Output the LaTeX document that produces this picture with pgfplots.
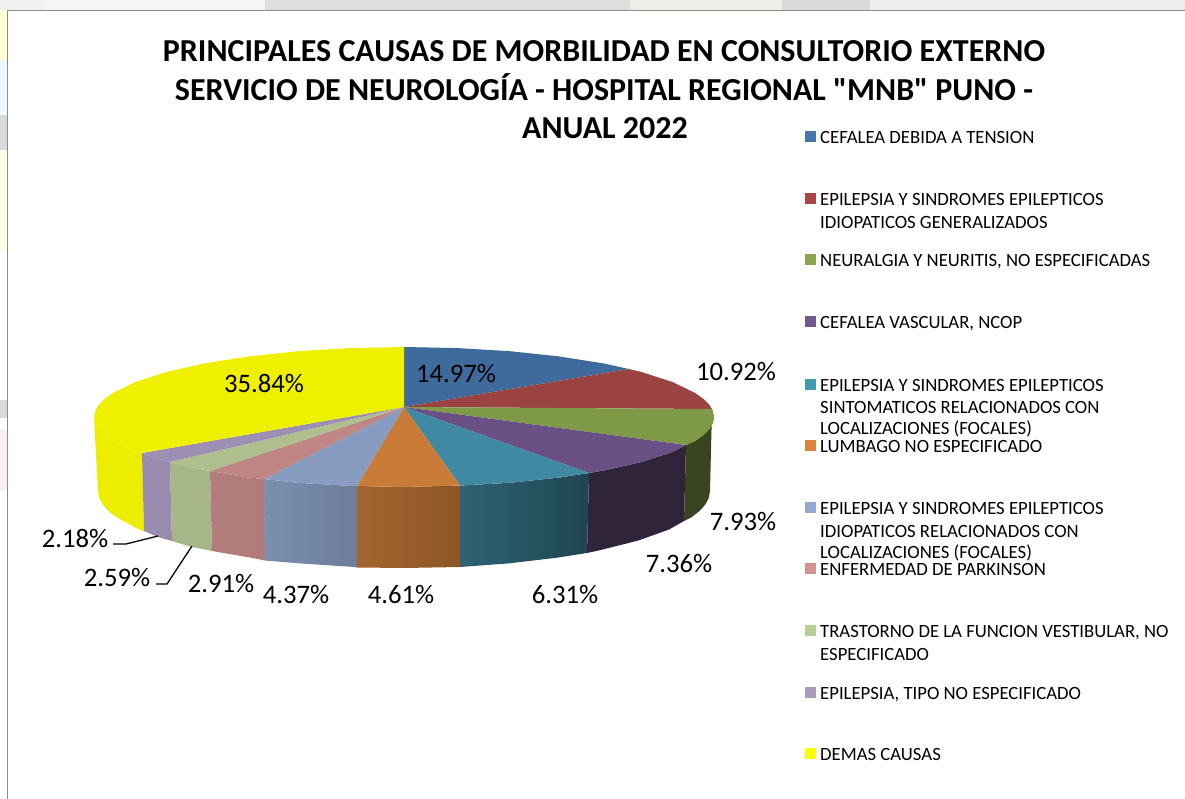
\documentclass[border=0pt]{standalone}
\usepackage{pgfplots}
\usepackage{fontspec}
\setmainfont{Carlito}
\newfontfamily\tfont{Carlito}
\pgfplotsset{compat=1.18}
\definecolor{cA}{HTML}{3F6A9C}\definecolor{cB}{HTML}{9B4340}\definecolor{cC}{HTML}{7F9A47}
\definecolor{cD}{HTML}{6A5084}\definecolor{cE}{HTML}{3F8AA2}\definecolor{cF}{HTML}{C97B38}
\definecolor{cG}{HTML}{879CC0}\definecolor{cH}{HTML}{C08684}\definecolor{cI}{HTML}{AEBE8D}
\definecolor{cJ}{HTML}{9D8FB2}\definecolor{cK}{HTML}{EFEF00}
\definecolor{kA}{HTML}{4674AB}\definecolor{kB}{HTML}{AA4643}\definecolor{kC}{HTML}{89A54E}
\definecolor{kD}{HTML}{71588F}\definecolor{kE}{HTML}{4198AF}\definecolor{kF}{HTML}{DB843D}
\definecolor{kG}{HTML}{93A9CF}\definecolor{kH}{HTML}{D19392}\definecolor{kI}{HTML}{B9CD96}
\definecolor{kJ}{HTML}{A99BBD}\definecolor{kK}{HTML}{FFFF00}
\tikzset{
  lab/.style={font=\fontsize{26.7}{26.7}\selectfont, anchor=center, inner sep=0pt},
  leg/.style={font=\fontsize{18.7}{18.7}\selectfont, anchor=base west, inner sep=0pt},
  ttl/.style={font=\fontsize{32}{32}\selectfont\tfont\bfseries, anchor=base, inner sep=0pt},
  key/.style={only marks, mark=square*, mark size=5pt, mark options={draw=#1, fill=#1, line width=0pt}},
}
\begin{document}
\begin{tikzpicture}
\begin{axis}[
  scale only axis, width=1185pt, height=799pt,
  xmin=0, xmax=1185, ymin=0, ymax=799, y dir=reverse,
  hide axis, clip=true,
  every axis plot/.append style={draw=none},
]
% outer strips
\addplot[fill=black!6] coordinates {(0,0)(45,0)(45,10)(0,10)};
\addplot[fill=red!14!black!4] coordinates {(45,0)(265,0)(265,10)(45,10)};
\addplot[fill=black!13] coordinates {(265,0)(630,0)(630,10)(265,10)};
\addplot[fill=yellow!25!black!10] coordinates {(630,0)(782,0)(782,10)(630,10)};
\addplot[fill=black!15] coordinates {(782,0)(870,0)(870,10)(782,10)};
\addplot[fill=black!7] coordinates {(870,0)(1185,0)(1185,10)(870,10)};
\addplot[fill=yellow!15] coordinates {(0,10)(7,10)(7,60)(0,60)};
\addplot[fill=cyan!8] coordinates {(0,60)(7,60)(7,115)(0,115)};
\addplot[fill=black!15] coordinates {(0,115)(7,115)(7,150)(0,150)};
\addplot[fill=yellow!10] coordinates {(0,150)(7,150)(7,250)(0,250)};
\addplot[fill=black!15] coordinates {(0,400)(7,400)(7,418)(0,418)};
\addplot[fill=red!6] coordinates {(0,430)(7,430)(7,490)(0,490)};
\addplot[draw=black!45, line width=1.2pt] coordinates {(7.5,799)(7.5,10.5)(1185,10.5)};
% sides
\addplot[fill=cK!99!black] coordinates {(142,453)(135.5,452)(112.7,440.9)(104.6,435.1)(98.7,429.2)(95.2,423.1)(94,417)(98,491)(99.2,497.7)(102.6,504.4)(108.4,510.9)(116.5,517.3)(139,529.5)(144,531)};
\addplot[fill=cJ!97!black] coordinates {(170,462)(155,458)(142,453)(144,531)(158,537)(172,541)};
\addplot[fill=cI!96!black] coordinates {(210,471)(190,467)(170,462)(172,541)(190,546.5)(212,551)};
\addplot[shade, left color=cH!93!black, right color=cH!92!black] coordinates {(264,479)(249,477.6)(210,471)(212,551)(251,557.7)(265,560.5)};
\addplot[shade, left color=cG!92!black, right color=cG!80!black] coordinates {(357,486)(350,485.9)(298,482.8)(264,479)(265,560.5)(299.3,563.4)(351,566.8)(357,567.5)};
\addplot[shade, left color=cF!82!black, right color=cF!70!black] coordinates {(460,485.5)(404,487)(357,486)(357,567.5)(404,568)(460,567)};
\addplot[shade, left color=cE!72!black, right color=cE!50!black] coordinates {(589,473)(559,477.6)(510,482.8)(460,485.5)(460,567)(508.7,563.4)(557,557.7)(587,553)};
\addplot[fill=cD!45!black] coordinates {(686,445)(672.5,452)(641.5,462)(603.3,470.6)(589,473)(587,553)(600.7,550)(638.4,540.5)(669,529.5)(684,521)};
\addplot[fill=cC!45!black] coordinates {(712,409)(714,417)(712.8,423.1)(709.3,429.2)(703.4,435.1)(695.3,440.9)(686,445)(684,521)(691.5,517.3)(699.6,510.9)(705.4,504.4)(708.8,497.7)(710,491)};
% tops
\addplot[fill=cA] coordinates {(404,407)(404,347)(458,348.1)(510,351.2)(559,356.4)(603.3,363.4)(629,369)};
\addplot[fill=cB] coordinates {(404,407)(629,369)(641.5,372)(672.5,382)(695.3,393.1)(703.4,398.9)(709.3,404.8)(712,409)};
\addplot[fill=cC] coordinates {(404,407)(712,409)(714,417)(712.8,423.1)(709.3,429.2)(703.4,435.1)(695.3,440.9)(686,445)};
\addplot[fill=cD] coordinates {(404,407)(686,445)(672.5,452)(641.5,462)(603.3,470.6)(589,473)};
\addplot[fill=cE] coordinates {(404,407)(589,473)(559,477.6)(510,482.8)(460,485.5)};
\addplot[fill=cF] coordinates {(404,407)(460,485.5)(404,487)(357,486)};
\addplot[fill=cG] coordinates {(404,407)(357,486)(350,485.9)(298,482.8)(264,479)};
\addplot[fill=cH] coordinates {(404,407)(264,479)(249,477.6)(210,471)};
\addplot[fill=cI] coordinates {(404,407)(210,471)(190,467)(170,462)};
\addplot[fill=cJ] coordinates {(404,407)(170,462)(155,458)(142,453)};
\addplot[fill=cK] coordinates {(404,407)(142,453)(135.5,452)(112.7,440.9)(104.6,435.1)(98.7,429.2)(95.2,423.1)(94,417)(95.2,410.9)(98.7,404.8)(104.6,398.9)(112.7,393.1)(135.5,382)(166.5,372)(204.7,363.4)(249,356.4)(298,351.2)(350,348.1)(404,347)};
% leaders
\addplot[draw=black, line width=1.3pt] coordinates {(113,544)(126,544)(158,536)};
\addplot[draw=black, line width=1.3pt] coordinates {(156,584)(167,584)(192,546)};
% legend keys
\addplot[key=kA] coordinates {(810,137)};
\addplot[key=kB] coordinates {(810,199)};
\addplot[key=kC] coordinates {(810,260)};
\addplot[key=kD] coordinates {(810,322)};
\addplot[key=kE] coordinates {(810,384)};
\addplot[key=kF] coordinates {(810,445)};
\addplot[key=kG] coordinates {(810,507)};
\addplot[key=kH] coordinates {(810,568)};
\addplot[key=kI] coordinates {(810,630)};
\addplot[key=kJ] coordinates {(810,692)};
\addplot[key=kK] coordinates {(810,753)};
% title
\node[ttl] at (axis cs:604,61.5) {PRINCIPALES CAUSAS DE MORBILIDAD EN CONSULTORIO EXTERNO};
\node[ttl] at (axis cs:604,100.5) {SERVICIO DE NEUROLOGÍA - HOSPITAL REGIONAL "MNB" PUNO -};
\node[ttl] at (axis cs:605,139) {ANUAL 2022};
% legend text
\node[leg] at (axis cs:820,144) {CEFALEA DEBIDA A TENSION};
\node[leg] at (axis cs:820,206) {EPILEPSIA Y SINDROMES EPILEPTICOS};
\node[leg] at (axis cs:820,229) {IDIOPATICOS GENERALIZADOS};
\node[leg] at (axis cs:820,267) {NEURALGIA Y NEURITIS, NO ESPECIFICADAS};
\node[leg] at (axis cs:820,329) {CEFALEA VASCULAR, NCOP};
\node[leg] at (axis cs:820,391) {EPILEPSIA Y SINDROMES EPILEPTICOS};
\node[leg] at (axis cs:820,413) {SINTOMATICOS RELACIONADOS CON};
\node[leg] at (axis cs:820,434) {LOCALIZACIONES (FOCALES)};
\node[leg] at (axis cs:820,452) {LUMBAGO NO ESPECIFICADO};
\node[leg] at (axis cs:820,514) {EPILEPSIA Y SINDROMES EPILEPTICOS};
\node[leg] at (axis cs:820,537) {IDIOPATICOS RELACIONADOS CON};
\node[leg] at (axis cs:820,558) {LOCALIZACIONES (FOCALES)};
\node[leg] at (axis cs:820,575) {ENFERMEDAD DE PARKINSON};
\node[leg] at (axis cs:820,637) {TRASTORNO DE LA FUNCION VESTIBULAR, NO};
\node[leg] at (axis cs:820,660) {ESPECIFICADO};
\node[leg] at (axis cs:820,699) {EPILEPSIA, TIPO NO ESPECIFICADO};
\node[leg] at (axis cs:820,760) {DEMAS CAUSAS};
% data labels
\node[lab] at (axis cs:456,374) {14.97\%};
\node[lab] at (axis cs:736,372) {10.92\%};
\node[lab] at (axis cs:743,522) {7.93\%};
\node[lab] at (axis cs:679,564) {7.36\%};
\node[lab] at (axis cs:565,594) {6.31\%};
\node[lab] at (axis cs:401,594) {4.61\%};
\node[lab] at (axis cs:296,594) {4.37\%};
\node[lab] at (axis cs:221,584) {2.91\%};
\node[lab] at (axis cs:117,578) {2.59\%};
\node[lab] at (axis cs:75,538) {2.18\%};
\node[lab] at (axis cs:264,383) {35.84\%};
\end{axis}
\end{tikzpicture}
\end{document}
